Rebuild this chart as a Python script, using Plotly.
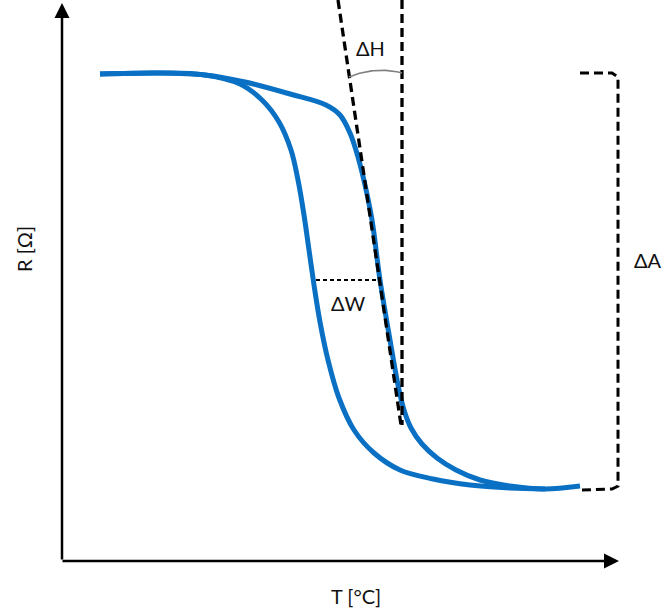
import plotly.graph_objects as go
import numpy as np

# Schematic coordinates (arbitrary units, y grows downward like the sketch)
heat_x = [100, 160, 205, 245, 290, 326, 340, 350, 358, 365, 372, 380, 390, 398, 404, 411, 422, 437, 456, 480, 510, 545, 580]
heat_y = [74, 73, 75, 82, 94, 105, 115, 133, 157, 185, 220, 280, 340, 385, 410, 428, 444, 458, 470, 480, 486, 489, 486]
cool_x = [100, 160, 205, 240, 262, 279, 291, 298, 304, 309, 314, 320, 328, 339, 354, 374, 400, 433, 470, 510, 545]
cool_y = [74, 73, 75, 84, 100, 122, 150, 180, 215, 250, 285, 322, 360, 398, 430, 453, 470, 479, 485, 488, 489]

tangent_x = [338, 401]
tangent_y = [0, 425]
vert_x = [402, 402]
vert_y = [0, 425]
width_x = [316, 378]
width_y = [280, 280]
bracket_x = [580, 612, 618, 618, 612, 582]
bracket_y = [73, 73, 77, 486, 489, 490]

arc_start = (349, 77)
arc_end = (402, 73)
arc_bulge = 4.5

fig = go.Figure()

blue = "#0A70C4"
fig.add_trace(go.Scatter(x=cool_x, y=cool_y, mode="lines", line=dict(color=blue, width=5, shape="spline", smoothing=1)))
fig.add_trace(go.Scatter(x=heat_x, y=heat_y, mode="lines", line=dict(color=blue, width=5, shape="spline", smoothing=1)))

dash = "9px,5px"
fig.add_trace(go.Scatter(x=tangent_x, y=tangent_y, mode="lines", line=dict(color="black", width=3.3, dash=dash)))
fig.add_trace(go.Scatter(x=vert_x, y=vert_y, mode="lines", line=dict(color="black", width=3.3, dash=dash)))
fig.add_trace(go.Scatter(x=width_x, y=width_y, mode="lines", line=dict(color="black", width=2, dash="4px,3px")))
fig.add_trace(go.Scatter(x=bracket_x, y=bracket_y, mode="lines", line=dict(color="black", width=3, dash=dash)))

# arc between the vertical and the tangent line (circle through both ends with given bulge)
sx, sy = arc_start
ex, ey = arc_end
chord = np.hypot(ex - sx, ey - sy)
r = (chord ** 2 / 4 + arc_bulge ** 2) / (2 * arc_bulge)
mx, my = (sx + ex) / 2, (sy + ey) / 2
nx, ny = -(ey - sy) / chord, (ex - sx) / chord  # unit normal
if ny < 0:
    nx, ny = -nx, -ny  # point downward (towards larger y)
cx, cy = mx + nx * (r - arc_bulge), my + ny * (r - arc_bulge)
a0 = np.arctan2(sy - cy, sx - cx)
a1 = np.arctan2(ey - cy, ex - cx)
angs = np.linspace(a0, a1, 40)
arc_x = cx + r * np.cos(angs)
arc_y = cy + r * np.sin(angs)
fig.add_trace(go.Scatter(x=arc_x, y=arc_y, mode="lines", line=dict(color="#808080", width=1.6)))

font = dict(family="Lato, Carlito, sans-serif", size=20, color="#111111")
fig.add_annotation(x=62, y=3, ax=62, ay=561, xref="x", yref="y", axref="x", ayref="y",
                   showarrow=True, arrowhead=2, arrowsize=1.2, arrowwidth=2.5, arrowcolor="black", text="", standoff=0)
fig.add_annotation(x=619, y=561, ax=61, ay=561, xref="x", yref="y", axref="x", ayref="y",
                   showarrow=True, arrowhead=2, arrowsize=1.2, arrowwidth=2.5, arrowcolor="black", text="", standoff=0)

fig.add_annotation(x=24, y=249, text="R [Ω]", textangle=-90, showarrow=False, font=font)
fig.add_annotation(x=356, y=596, text="T [°C]", showarrow=False, font=font)
fig.add_annotation(x=370, y=48, text="ΔH", showarrow=False, font=font)
fig.add_annotation(x=348, y=303, text="ΔW", showarrow=False, font=font)
fig.add_annotation(x=648, y=260, text="ΔA", showarrow=False, font=font)

fig.update_layout(
    width=662, height=613, margin=dict(l=0, r=0, t=0, b=0),
    paper_bgcolor="white", plot_bgcolor="white", showlegend=False,
    xaxis=dict(range=[0, 662], visible=False, fixedrange=True),
    yaxis=dict(range=[613, 0], visible=False, fixedrange=True),
)
fig.write_html("out.html")
